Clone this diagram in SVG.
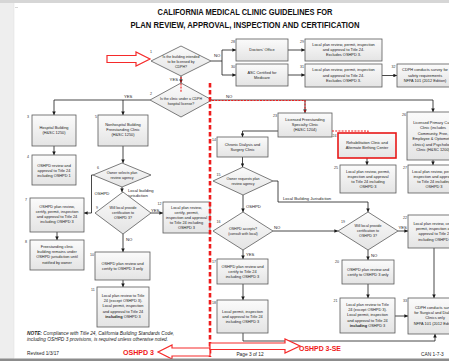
<svg xmlns="http://www.w3.org/2000/svg" width="449" height="361" viewBox="0 0 449 361">
<style>
.box{fill:url(#g);stroke:#5a5a5a;stroke-width:0.8}
.red{stroke:#e81818;stroke-width:1.6}
.t{font-family:"Liberation Sans",Arial,sans-serif;font-size:3.9px;fill:#222;text-anchor:middle}
.dt{font-size:3.6px}
.num{font-family:"Liberation Sans",Arial,sans-serif;font-size:3.6px;fill:#333}
.lbl{font-family:"Liberation Sans",Arial,sans-serif;font-size:4.2px;fill:#222}
.c{fill:none;stroke:#1a1a1a;stroke-width:0.8}
.a{marker-end:url(#ah)}
.rd{fill:none;stroke:#ee1c1c;stroke-width:1.1;stroke-dasharray:2 1.2}
.rdt{fill:none;stroke:#ee1c1c;stroke-width:2.6;stroke-dasharray:4.5 2.5}
.ra{fill:#fff;stroke:#f52a2a;stroke-width:1.2}
.title{font-family:"Liberation Sans",Arial,sans-serif;font-weight:bold;font-size:9.5px;fill:#111;text-anchor:middle}
.rt{font-family:"Liberation Sans",Arial,sans-serif;font-weight:bold;font-size:8px;fill:#f01818}
.ft{font-family:"Liberation Sans",Arial,sans-serif;font-size:4.8px;fill:#222}
</style>
<defs>
<linearGradient id="g" x1="0" y1="0" x2="0" y2="1"><stop offset="0" stop-color="#fbfbfb"/><stop offset="1" stop-color="#e4e4e4"/></linearGradient>
<marker id="ah" viewBox="0 0 10 10" refX="10" refY="5" markerWidth="3.6" markerHeight="3.6" markerUnits="userSpaceOnUse" orient="auto"><path d="M0,0 L10,5 L0,10 z" fill="#1a1a1a"/></marker>
</defs>
<rect x="0" y="0" width="449" height="361" fill="#fff"/>
<rect x="0" y="0" width="14" height="361" fill="#eeeeee"/>
<line x1="14" y1="0" x2="14" y2="358" stroke="#e2e2e2" stroke-width="0.6"/>
<rect x="0" y="0" width="449" height="3" fill="#d6d6d6"/>
<line x1="15" y1="7.5" x2="18" y2="7.5" stroke="#bbb" stroke-width="0.6"/>

<text class="title" x="245" y="15" textLength="175" lengthAdjust="spacingAndGlyphs">CALIFORNIA MEDICAL CLINIC GUIDELINES FOR</text>
<text class="title" x="245" y="27.5" textLength="229" lengthAdjust="spacingAndGlyphs">PLAN REVIEW, APPROVAL, INSPECTION AND CERTIFICATION</text>

<g id="connectors">
<path class="c" d="M211,61 H222 M222,50 V75"/>
<path class="c a" d="M222,50 H236"/>
<path class="c a" d="M222,75 H236"/>
<path class="c a" d="M288,50 H305"/>
<path class="c a" d="M288,75 H305"/>
<path class="c a" d="M382,75.5 H397"/>
<path class="c a" d="M181,76 V83"/>
<path class="c" d="M150,100 H54"/>
<path class="c a" d="M54,100 V115"/>
<path class="c a" d="M123,100 V115"/>
<path class="c a" d="M212,100 H433 V112"/>
<path class="c a" d="M305,100 V113"/>
<path class="c a" d="M278,131 H242.5 V137"/>
<path class="c a" d="M54,146 V155"/>
<path class="c a" d="M123,146 V163"/>
<path class="c a" d="M93,175 H91.5 V213 H84"/>
<path class="c a" d="M122,187 V192"/>
<path class="c a" d="M151,213 H163"/>
<path class="c a" d="M123,234 V252"/>
<path class="c a" d="M57,232 V240"/>
<path class="c a" d="M123,280 V287"/>
<path class="c a" d="M242.5,157 V167"/>
<path class="c a" d="M273,181 H278 V202 H368 V212"/>
<path class="c a" d="M243,195 V212"/>
<path class="c a" d="M273,231 H338"/>
<path class="c a" d="M243,250 V259"/>
<path class="c a" d="M243,284 V300"/>
<path class="c a" d="M243,333 V341 H435 V334"/>
<path class="c a" d="M398,231 H408"/>
<path class="c a" d="M368,250 V260"/>
<path class="c a" d="M368,284 V298"/>
<path class="c a" d="M395,316 H408"/>
<path class="c a" d="M434,248 V298"/>
<path class="c a" d="M367,158 V165"/>
<path class="c a" d="M433,160 V165"/>
<text class="lbl" x="214" y="57">NO</text>
<text class="lbl" x="178" y="81" text-anchor="end">YES</text>
<text class="lbl" x="124" y="98">YES</text>
<text class="lbl" x="226" y="98">NO</text>
<text class="lbl" x="94.5" y="195">OSHPD</text>
<text class="lbl" x="128" y="191.5">Local building</text>
<text class="lbl" x="128" y="197">jurisdiction</text>
<text class="lbl" x="151" y="211.5">YES</text>
<text class="lbl" x="126" y="241">NO</text>
<text class="lbl" x="283" y="199.5">Local Building Jurisdiction</text>
<text class="lbl" x="246" y="207.5">OSHPD</text>
<text class="lbl" x="274" y="229">NO</text>
<text class="lbl" x="246" y="255.5">YES</text>
<text class="lbl" x="398.5" y="229">YES</text>
<text class="lbl" x="371" y="256.5">NO</text>
</g>

<g id="n1"><polygon class="box" points="181,46 211,61 181,76 151,61"/><text class="num" x="150" y="53">1</text>
<text class="t dt" x="181" y="57.5"><tspan x="181">Is the building intended</tspan><tspan x="181" dy="5.2">to be licensed by</tspan><tspan x="181" dy="5.2">CDPH?</tspan></text></g>
<g id="n2"><polygon class="box" points="181,83 212,100 181,117 150,100"/><text class="num" x="150" y="95">2</text>
<text class="t dt" x="181" y="99.5"><tspan x="181">Is the clinic under a CDPH</tspan><tspan x="181" dy="5.4">hospital license?</tspan></text></g>
<g id="n3"><rect class="box" x="32" y="115" width="44" height="31"/><text class="num" x="27" y="118">3</text>
<text class="t" x="54" y="128.5"><tspan x="54">Hospital Building</tspan><tspan x="54" dy="5.2">(H&amp;SC 1250)</tspan></text></g>
<g id="n4"><rect class="box" x="32" y="155" width="44" height="30"/><text class="num" x="27" y="158">4</text>
<text class="t" x="54" y="166.5"><tspan x="54">OSHPD review and</tspan><tspan x="54" dy="5.2">approval to Title 24</tspan><tspan x="54" dy="5.2">including OSHPD 1</tspan></text></g>
<g id="n5"><rect class="box" x="98" y="115" width="50" height="31"/><text class="num" x="95" y="118">5</text>
<text class="t" x="123" y="125.5"><tspan x="123">Nonhospital Building</tspan><tspan x="123" dy="5.2">Freestanding Clinic</tspan><tspan x="123" dy="5.2">(H&amp;SC 1250)</tspan></text></g>
<g id="n6"><polygon class="box" points="122,163 151,175 122,187 93,175"/><text class="num" x="97" y="169">6</text>
<text class="t dt" x="122" y="174"><tspan x="122">Owner selects plan</tspan><tspan x="122" dy="5">review agency</tspan></text></g>
<g id="n7"><rect class="box" x="30" y="198" width="54" height="34"/><text class="num" x="25" y="201">7</text>
<text class="t" x="57" y="207.5"><tspan x="57">OSHPD plan review,</tspan><tspan x="57" dy="5.2">certify, permit, inspection</tspan><tspan x="57" dy="5.2">and approval to Title 24</tspan><tspan x="57" dy="5.2">including OSHPD 3</tspan></text></g>
<g id="n8"><rect class="box" x="30" y="240" width="54" height="30"/><text class="num" x="25" y="243">8</text>
<text class="t" x="57" y="248"><tspan x="57">Freestanding clinic</tspan><tspan x="57" dy="5.2">building remains under</tspan><tspan x="57" dy="5.2">OSHPD jurisdiction until</tspan><tspan x="57" dy="5.2">notified by owner</tspan></text></g>
<g id="n9"><polygon class="box" points="123,192 151,213 123,234 95,213"/><text class="num" x="96" y="209">9</text>
<text class="t dt" x="123" y="209"><tspan x="123">Will local provide</tspan><tspan x="123" dy="5.2">certification to</tspan><tspan x="123" dy="5.2">OSHPD 3?</tspan></text></g>
<g id="n10"><rect class="box" x="95" y="252" width="55" height="28"/><text class="num" x="90" y="255.5">10</text>
<text class="t" x="122.5" y="265"><tspan x="122.5">OSHPD plan review and</tspan><tspan x="122.5" dy="5.2">certify to OSHPD 3 only</tspan></text></g>
<g id="n11"><rect class="box" x="97" y="287" width="52" height="40"/><text class="num" x="91" y="290.5">11</text>
<text class="t" x="123" y="297"><tspan x="123">Local plan review to Title</tspan><tspan x="123" dy="5.2">24 (except OSHPD 3).</tspan><tspan x="123" dy="5.2">Local permit, inspection</tspan><tspan x="123" dy="5.2">and approval to Title 24</tspan><tspan x="123" dy="5.2"><tspan font-weight="bold">including</tspan> OSHPD 3</tspan></text></g>
<g id="n12"><rect class="box" x="163" y="202" width="47" height="31"/><text class="num" x="157.5" y="205">12</text>
<text class="t" x="186.5" y="208.5"><tspan x="186.5">Local plan review,</tspan><tspan x="186.5" dy="5">certify, permit,</tspan><tspan x="186.5" dy="5">inspection and approval</tspan><tspan x="186.5" dy="5">to Title 24 including</tspan><tspan x="186.5" dy="5">OSHPD 3</tspan></text></g>
<g id="n14"><rect class="box" x="217" y="137" width="51" height="20"/><text class="num" x="212" y="140.5">14</text>
<text class="t" x="242.5" y="145.5"><tspan x="242.5">Chronic Dialysis and</tspan><tspan x="242.5" dy="5.2">Surgery Clinic</tspan></text></g>
<g id="n15"><polygon class="box" points="243,167 273,181 243,195 213,181"/><text class="num" x="216.5" y="176">15</text>
<text class="t dt" x="243" y="180"><tspan x="243">Owner requests plan</tspan><tspan x="243" dy="5">review agency</tspan></text></g>
<g id="n16"><polygon class="box" points="243,212 273,231 243,250 213,231"/><text class="num" x="216.5" y="223">16</text>
<text class="t dt" x="243" y="230"><tspan x="243">OSHPD accepts?</tspan><tspan x="243" dy="5">(consult with local)</tspan></text></g>
<g id="n17"><rect class="box" x="217" y="259" width="51" height="25"/><text class="num" x="212" y="262.5">17</text>
<text class="t" x="242.5" y="267.5"><tspan x="242.5">OSHPD plan review and</tspan><tspan x="242.5" dy="5.2">certify to Title 24</tspan><tspan x="242.5" dy="5.2">including OSHPD 3</tspan></text></g>
<g id="n18"><rect class="box" x="217" y="300" width="51" height="33"/><text class="num" x="212" y="303.5">18</text>
<text class="t" x="242.5" y="312.5"><tspan x="242.5">Local permit, inspection</tspan><tspan x="242.5" dy="5.2">and approval to Title 24</tspan><tspan x="242.5" dy="5.2">including OSHPD 3</tspan></text></g>
<g id="n19"><polygon class="box" points="368,212 398,231 368,250 338,231"/><text class="num" x="341" y="223">19</text>
<text class="t dt" x="368" y="227"><tspan x="368">Will local provide</tspan><tspan x="368" dy="5.2">certification to</tspan><tspan x="368" dy="5.2">OSHPD 3?</tspan></text></g>
<g id="n20"><rect class="box" x="342" y="260" width="52" height="24"/><text class="num" x="335" y="263">20</text>
<text class="t" x="368" y="270.7"><tspan x="368">OSHPD plan review and</tspan><tspan x="368" dy="5.2">certify to OSHPD 3 only</tspan></text></g>
<g id="n21"><rect class="box" x="340" y="298" width="55" height="35"/><text class="num" x="333.5" y="301.5">21</text>
<text class="t" x="367.5" y="306"><tspan x="367.5">Local plan review to Title</tspan><tspan x="367.5" dy="5.2">24 (except OSHPD 3).</tspan><tspan x="367.5" dy="5.2">Local permit, inspection</tspan><tspan x="367.5" dy="5.2">and approval to Title 24</tspan><tspan x="367.5" dy="5.2"><tspan font-weight="bold">including</tspan> OSHPD 3</tspan></text></g>
<g id="n22"><rect class="box" x="408" y="215" width="54" height="33"/><text class="num" x="403" y="218.5">22</text>
<text class="t" x="435" y="225"><tspan x="435">Local plan review, certify,</tspan><tspan x="435" dy="5.2">permit, inspection and</tspan><tspan x="435" dy="5.2">approval to Title 24</tspan><tspan x="435" dy="5.2">including OSHPD 3</tspan></text></g>
<g id="n23"><rect class="box" x="278" y="113" width="54" height="24"/><text class="num" x="273" y="116.5">23</text>
<text class="t" x="305" y="120.5"><tspan x="305">Licensed Freestanding</tspan><tspan x="305" dy="5.2">Specialty Clinic</tspan><tspan x="305" dy="5.2">(H&amp;SC 1204)</tspan></text></g>
<g id="n24"><rect class="box red" x="338" y="133" width="58" height="25"/><text class="num" x="332.5" y="137">24</text>
<text class="t" x="367" y="144.2"><tspan x="367">Rehabilitation Clinic and</tspan><tspan x="367" dy="5.2">Alternate Birthing Center</tspan></text></g>
<g id="n25"><rect class="box" x="340" y="165" width="56" height="28"/><text class="num" x="334" y="168.5">25</text>
<text class="t" x="368" y="172.5"><tspan x="368">Local plan review, permit,</tspan><tspan x="368" dy="5.2">inspection and approval</tspan><tspan x="368" dy="5.2">to Title 24 including</tspan><tspan x="368" dy="5.2">OSHPD 3</tspan></text></g>
<g id="n26"><rect class="box" x="407" y="112" width="52" height="48"/><text class="num" x="402" y="116">26</text>
<text class="t" x="433" y="124" font-size="4.4"><tspan x="433">Licensed Primary Care</tspan><tspan x="433" dy="5.4">Clinic (includes</tspan><tspan x="433" dy="5.4">Community, Free,</tspan><tspan x="433" dy="5.4">Employee &amp; Optometric</tspan><tspan x="433" dy="5.4">clinics) and Psychology</tspan><tspan x="433" dy="5.4">Clinic (H&amp;SC 1200)</tspan></text></g>
<g id="n27"><rect class="box" x="408" y="165" width="52" height="28"/><text class="num" x="403" y="168.5">27</text>
<text class="t" x="434" y="172.5"><tspan x="434">Local plan review, permit,</tspan><tspan x="434" dy="5.2">inspection and approval</tspan><tspan x="434" dy="5.2">to Title 24 including</tspan><tspan x="434" dy="5.2">OSHPD 3</tspan></text></g>
<g id="n28"><rect class="box" x="236" y="39" width="52" height="22"/><text class="num" x="231" y="42.5">28</text>
<text class="t" x="262" y="51.3">Doctors' Office</text></g>
<g id="n29"><rect class="box" x="305" y="39" width="77" height="22"/><text class="num" x="300" y="42.5">29</text>
<text class="t" x="343.5" y="46" font-size="3.6"><tspan x="343.5">Local plan review, permit, inspection</tspan><tspan x="343.5" dy="5.2">and approval to Title 24.</tspan><tspan x="343.5" dy="5.2">Excludes OSHPD 3.</tspan></text></g>
<g id="n30"><rect class="box" x="236" y="64" width="52" height="22"/><text class="num" x="231" y="67.5">30</text>
<text class="t" x="262" y="73.5"><tspan x="262">ASC Certified for</tspan><tspan x="262" dy="5.4">Medicare</tspan></text></g>
<g id="n31"><rect class="box" x="305" y="64" width="77" height="23"/><text class="num" x="300" y="67.5">31</text>
<text class="t" x="343.5" y="71.3" font-size="3.6"><tspan x="343.5">Local plan review, permit, inspection</tspan><tspan x="343.5" dy="5.2">and approval to Title 24.</tspan><tspan x="343.5" dy="5.2">Excludes OSHPD 3.</tspan></text></g>
<g id="n32"><rect class="box" x="397" y="64" width="56" height="23"/><text class="num" x="391.5" y="67.5">32</text>
<text class="t" x="425" y="71.3"><tspan x="425">CDPH conducts survey for</tspan><tspan x="425" dy="5.2">safety requirements</tspan><tspan x="425" dy="5.2">NFPA 101 (2012 Edition)</tspan></text></g>
<g id="n33"><rect class="box" x="408" y="298" width="54" height="36"/><text class="num" x="403" y="301.5">33</text>
<text class="t" x="435" y="309"><tspan x="435">CDPH conducts survey</tspan><tspan x="435" dy="5.2">for Surgical and Dialysis</tspan><tspan x="435" dy="5.2">Clinics only</tspan><tspan x="435" dy="5.2">NFPA 101 (2012 Edition)</tspan></text></g>

<g id="red-markup">
<polygon class="ra" points="107,55.5 136,55.5 136,52 150,59 136,66 136,62.5 107,62.5"/>
<path class="rd" d="M181,77 V93"/>
<path class="rd" d="M212,100.5 H305 V112"/>
<path class="rd" d="M332,131 H368 V133"/>
<path class="rdt" d="M210,83 V357"/>
<polygon class="ra" points="210,348 172,348 172,345 158,352 172,359 172,356 210,356"/>
<polygon class="ra" points="210,343 285,343 285,339 300,346 285,353 285,349.5 210,349.5"/>
<text class="rt" x="123" y="355" textLength="31" lengthAdjust="spacingAndGlyphs">OSHPD 3</text>
<text class="rt" x="299" y="351" textLength="42" lengthAdjust="spacingAndGlyphs">OSHPD 3-SE</text>
</g>

<text class="ft" x="27" y="334.5" font-style="italic"><tspan font-weight="bold">NOTE:</tspan>  Compliance with Title 24, California Building Standards Code,</text>
<text class="ft" x="27" y="341" font-style="italic">including OSHPD 3 provisions, is required unless otherwise noted.</text>
<text class="ft" x="27" y="355">Revised 1/3/17</text>
<text class="ft" x="250" y="356" text-anchor="middle">Page 3 of 12</text>
<text class="ft" x="421" y="356" font-size="4.4">CAN 1-7-3</text>
<rect x="0" y="358.5" width="449" height="2.5" fill="#8c8c8c"/>
</svg>
